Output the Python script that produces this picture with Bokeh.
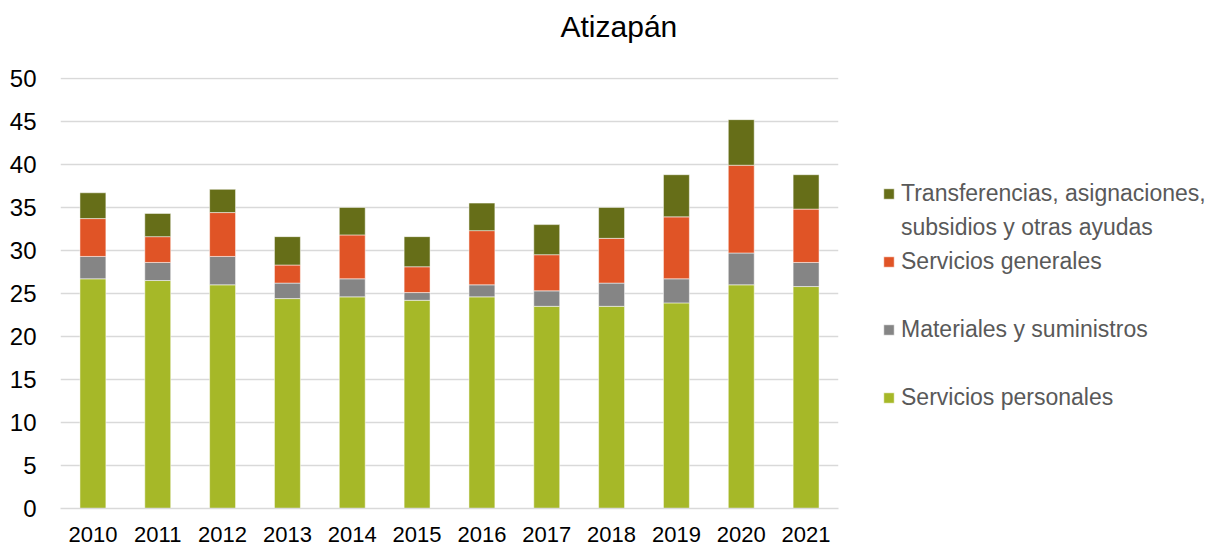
from bokeh.plotting import figure
from bokeh.models import Range1d, FactorRange, SingleIntervalTicker, Legend, LegendItem, ColumnDataSource
from bokeh.embed import file_html
from bokeh.resources import INLINE

years = ["2010", "2011", "2012", "2013", "2014", "2015", "2016", "2017", "2018", "2019", "2020", "2021"]
servicios_personales = [26.7, 26.5, 26.0, 24.4, 24.6, 24.2, 24.6, 23.5, 23.5, 23.9, 26.0, 25.8]
materiales = [2.6, 2.1, 3.3, 1.8, 2.1, 0.9, 1.4, 1.8, 2.7, 2.8, 3.7, 2.8]
servicios_generales = [4.4, 3.0, 5.1, 2.1, 5.1, 3.0, 6.3, 4.2, 5.2, 7.2, 10.2, 6.2]
transferencias = [3.0, 2.7, 2.7, 3.3, 3.2, 3.5, 3.2, 3.5, 3.6, 4.9, 5.3, 4.0]

series = ["sp", "ms", "sg", "tr"]
colors = ["#A6B828", "#858585", "#E05426", "#666E18"]
labels = ["Servicios personales", "Materiales y suministros", "Servicios generales",
          "Transferencias, asignaciones,", "subsidios y otras ayudas"]

FONT = "Liberation Sans"

source = ColumnDataSource(dict(years=years, sp=servicios_personales, ms=materiales,
                               sg=servicios_generales, tr=transferencias))

p = figure(x_range=FactorRange(*years, range_padding=0), y_range=Range1d(0, 50.1),
           frame_width=778, frame_height=431, output_backend="svg", toolbar_location=None,
           min_border_left=60, min_border_right=0, min_border_top=77, min_border_bottom=38)
p.outline_line_color = None
p.background_fill_color = "white"
p.border_fill_color = "white"

renderers = p.vbar_stack(series, x="years", width=0.4, color=colors, source=source,
                         line_color="white", line_width=1, line_alpha=0.5)

p.title.text = "Atizapán\n"
p.title.align = "left"
p.title.offset = 500
p.title.text_font = FONT
p.title.text_font_size = "30px"
p.title.text_font_style = "normal"
p.title.text_color = "#000000"
p.title.vertical_align = "top"
p.title.standoff = 0

p.yaxis.ticker = SingleIntervalTicker(interval=5)
p.ygrid.ticker = SingleIntervalTicker(interval=5)
p.ygrid.grid_line_color = "#D9D9D9"
p.ygrid.grid_line_width = 1.5
p.xgrid.grid_line_color = None

for ax in (p.xaxis, p.yaxis):
    ax.axis_line_color = None
    ax.major_tick_line_color = None
    ax.minor_tick_line_color = None
    ax.major_label_text_font = FONT
    ax.major_label_text_color = "#000000"
p.xaxis.axis_line_color = "#D9D9D9"
p.xaxis.axis_line_width = 1.5
p.xaxis.major_label_text_font_size = "22px"
p.yaxis.major_label_text_font_size = "24px"
p.yaxis.major_label_standoff = 18
p.xaxis.major_label_standoff = 12

dummy = p.scatter(x=[], y=[], marker="square", alpha=0)

items = [
    LegendItem(label=labels[3], renderers=[renderers[3]]),
    LegendItem(label=labels[4], renderers=[dummy]),
    LegendItem(label=labels[2], renderers=[renderers[2]]),
    LegendItem(label=" ", renderers=[dummy]),
    LegendItem(label=labels[1], renderers=[renderers[1]]),
    LegendItem(label=" ", renderers=[dummy]),
    LegendItem(label=labels[0], renderers=[renderers[0]]),
]
leg = Legend(items=items, location=(44, 94),
             glyph_width=13, glyph_height=13, label_standoff=6, label_height=34,
             padding=0, margin=0, spacing=0, border_line_color=None,
             background_fill_alpha=0, label_text_font=FONT,
             label_text_font_size="23px", label_text_color="#595959")
p.add_layout(leg, "right")

open("out.html", "w").write(file_html(p, INLINE))
